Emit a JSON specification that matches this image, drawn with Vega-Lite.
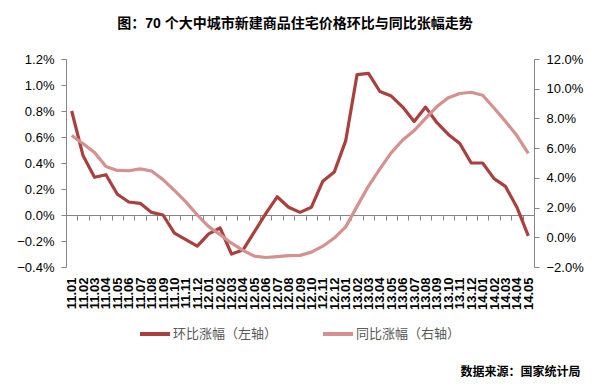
{
  "$schema": "https://vega.github.io/schema/vega-lite/v6.json",
  "autosize": {"type": "none"},
  "width": 468,
  "height": 208,
  "padding": {"left": 66, "top": 59, "right": 68, "bottom": 118},
  "background": "white",
  "config": {"view": {"stroke": null}},
  "title": {
    "text": "图：70 个大中城市新建商品住宅价格环比与同比张幅走势",
    "anchor": "middle",
    "baseline": "alphabetic",
    "offset": 11,
    "dx": -5,
    "fontSize": 14,
    "fontWeight": "bold",
    "color": "#000000",
    "font": "Liberation Sans, Noto Sans CJK SC"
  },
  "data": {
    "values": [
      {"m": "11.01", "hb": 0.8, "tb": 6.85},
      {"m": "11.02", "hb": 0.455, "tb": 6.3},
      {"m": "11.03", "hb": 0.29, "tb": 5.7},
      {"m": "11.04", "hb": 0.31, "tb": 4.77},
      {"m": "11.05", "hb": 0.16, "tb": 4.5},
      {"m": "11.06", "hb": 0.1, "tb": 4.48},
      {"m": "11.07", "hb": 0.09, "tb": 4.6},
      {"m": "11.08", "hb": 0.02, "tb": 4.46},
      {"m": "11.09", "hb": 0.0, "tb": 3.88},
      {"m": "11.10", "hb": -0.14, "tb": 3.15},
      {"m": "11.11", "hb": -0.19, "tb": 2.38},
      {"m": "11.12", "hb": -0.24, "tb": 1.5},
      {"m": "12.01", "hb": -0.145, "tb": 0.72},
      {"m": "12.02", "hb": -0.1, "tb": 0.18},
      {"m": "12.03", "hb": -0.3, "tb": -0.4},
      {"m": "12.04", "hb": -0.27, "tb": -0.88},
      {"m": "12.05", "hb": -0.13, "tb": -1.27},
      {"m": "12.06", "hb": 0.01, "tb": -1.36},
      {"m": "12.07", "hb": 0.14, "tb": -1.3},
      {"m": "12.08", "hb": 0.06, "tb": -1.24},
      {"m": "12.09", "hb": 0.02, "tb": -1.22},
      {"m": "12.10", "hb": 0.06, "tb": -1.0},
      {"m": "12.11", "hb": 0.26, "tb": -0.6},
      {"m": "12.12", "hb": 0.33, "tb": -0.05},
      {"m": "13.01", "hb": 0.57, "tb": 0.7},
      {"m": "13.02", "hb": 1.08, "tb": 2.08},
      {"m": "13.03", "hb": 1.09, "tb": 3.45},
      {"m": "13.04", "hb": 0.95, "tb": 4.6},
      {"m": "13.05", "hb": 0.915, "tb": 5.7},
      {"m": "13.06", "hb": 0.83, "tb": 6.55},
      {"m": "13.07", "hb": 0.72, "tb": 7.18},
      {"m": "13.08", "hb": 0.83, "tb": 8.0},
      {"m": "13.09", "hb": 0.71, "tb": 8.8},
      {"m": "13.10", "hb": 0.62, "tb": 9.4},
      {"m": "13.11", "hb": 0.55, "tb": 9.68},
      {"m": "13.12", "hb": 0.4, "tb": 9.76},
      {"m": "14.01", "hb": 0.4, "tb": 9.56},
      {"m": "14.02", "hb": 0.28, "tb": 8.7},
      {"m": "14.03", "hb": 0.22, "tb": 7.8},
      {"m": "14.04", "hb": 0.06, "tb": 6.85},
      {"m": "14.05", "hb": -0.16, "tb": 5.65}
    ]
  },
  "encoding": {
    "x": {
      "field": "m",
      "type": "ordinal",
      "sort": null,
      "scale": {"type": "band", "paddingInner": 0, "paddingOuter": 0},
      "axis": {
        "orient": "bottom",
        "offset": -52,
        "tickBand": "extent",
        "tickSize": 5,
        "domainColor": "#868686",
        "tickColor": "#868686",
        "labelAngle": 270,
        "labelAlign": "right",
        "labelBaseline": "middle",
        "labelPadding": 57,
        "labelFont": "Liberation Sans",
        "labelFontSize": 13,
        "labelFontWeight": "bold",
        "labelColor": "#000000",
        "labelOverlap": false,
        "title": "数据来源：国家统计局",
        "titleX": 514,
        "titleY": 160,
        "titleAlign": "right",
        "titleBaseline": "alphabetic",
        "titleFont": "Noto Sans CJK SC",
        "titleFontSize": 12,
        "titleFontWeight": "bold",
        "titleColor": "#000000"
      }
    }
  },
  "layer": [
    {
      "mark": {"type": "line", "strokeWidth": 3.2, "strokeJoin": "round"},
      "encoding": {
        "y": {
          "field": "hb",
          "type": "quantitative",
          "scale": {"domain": [-0.4, 1.2], "nice": false, "zero": false},
          "axis": {
            "orient": "left",
            "values": [-0.4, -0.2, 0, 0.2, 0.4, 0.6, 0.8, 1.0, 1.2],
            "labelExpr": "format(datum.value, '.1f') + '%'",
            "grid": false,
            "title": null,
            "tickSize": 5,
            "labelPadding": 7,
            "domainColor": "#868686",
            "tickColor": "#868686",
            "labelFont": "Liberation Sans",
            "labelFontSize": 13,
            "labelColor": "#000000"
          }
        },
        "color": {
          "datum": "环比涨幅（左轴）",
          "type": "nominal",
          "scale": {"domain": ["环比涨幅（左轴）", "同比涨幅（右轴）"], "range": ["#A8403E", "#D4918F"]},
          "legend": {
            "orient": "none",
            "legendX": 72,
            "legendY": 258,
            "direction": "horizontal",
            "title": null,
            "symbolType": "stroke",
            "symbolSize": 900,
            "symbolStrokeWidth": 4,
            "labelOffset": 1,
            "columnPadding": 37,
            "labelFont": "Noto Sans CJK SC",
            "labelFontSize": 13,
            "labelColor": "#595959"
          }
        }
      }
    },
    {
      "mark": {"type": "line", "strokeWidth": 3.2, "strokeJoin": "round"},
      "encoding": {
        "y": {
          "field": "tb",
          "type": "quantitative",
          "scale": {"domain": [-2, 12], "nice": false, "zero": false},
          "axis": {
            "orient": "right",
            "values": [-2, 0, 2, 4, 6, 8, 10, 12],
            "labelExpr": "format(datum.value, '.1f') + '%'",
            "grid": false,
            "title": null,
            "tickSize": 5,
            "labelPadding": 7,
            "domainColor": "#868686",
            "tickColor": "#868686",
            "labelFont": "Liberation Sans",
            "labelFontSize": 13,
            "labelColor": "#000000"
          }
        },
        "color": {"datum": "同比涨幅（右轴）", "type": "nominal"}
      }
    }
  ],
  "resolve": {"scale": {"y": "independent"}}
}
